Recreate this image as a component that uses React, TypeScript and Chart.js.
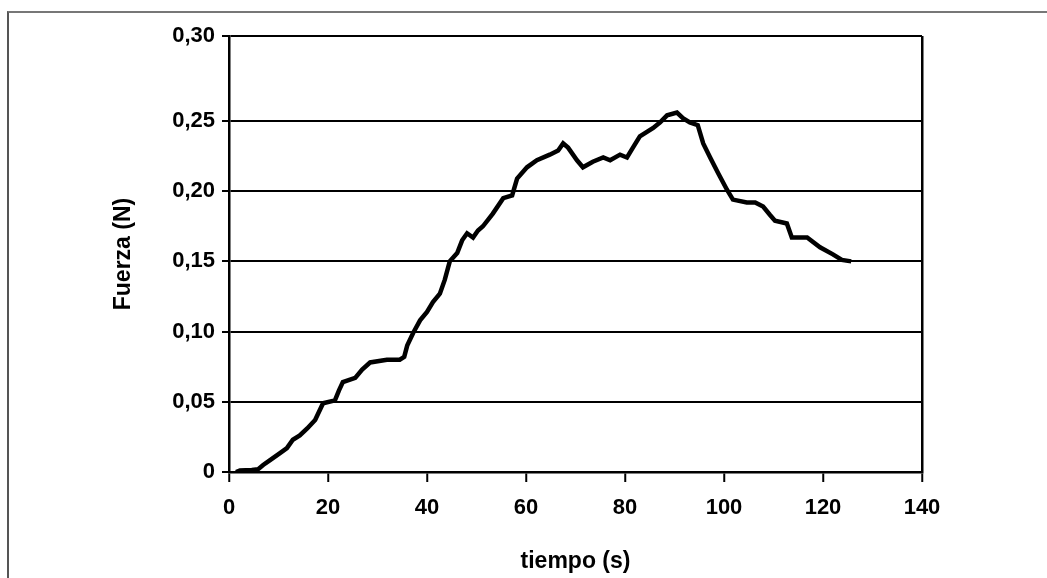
import React, { useEffect, useRef } from "react";
import { Chart, registerables } from "chart.js";

Chart.register(...registerables);

// time (s)
const tiempo = [
  1.4, 2.2, 4.6, 5.9, 6.9, 8.3, 10.3, 11.7, 12.9, 14.3, 15.8, 17.4, 19.0, 21.4, 22.2, 23.0,
  25.5, 26.9, 28.5, 31.9, 34.5, 35.4, 36.0, 37.2, 38.6, 40.0, 41.2, 42.6, 43.6, 44.6, 46.1,
  47.1, 48.1, 49.3, 50.3, 51.3, 53.3, 55.4, 57.2, 58.2, 60.2, 62.2, 64.8, 66.5, 67.5, 68.5,
  70.3, 71.5, 73.5, 75.6, 77.0, 79.0, 80.4, 81.6, 83.0, 85.7, 87.1, 88.5, 90.5, 91.7, 93.1,
  94.7, 95.8, 97.2, 98.8, 100.6, 101.8, 104.6, 106.3, 107.9, 109.3, 110.3, 112.7, 113.7,
  116.8, 119.4, 122.0, 123.8, 125.7,
];
// force (N)
const fuerza = [
  0.0, 0.001, 0.0015, 0.002, 0.005, 0.0085, 0.0135, 0.017, 0.023, 0.026, 0.031, 0.037, 0.049,
  0.051, 0.058, 0.064, 0.067, 0.073, 0.078, 0.08, 0.08, 0.082, 0.09, 0.099, 0.108, 0.114,
  0.121, 0.127, 0.137, 0.15, 0.156, 0.165, 0.17, 0.167, 0.172, 0.175, 0.184, 0.195, 0.197,
  0.209, 0.217, 0.222, 0.226, 0.229, 0.234, 0.231, 0.222, 0.217, 0.221, 0.224, 0.222, 0.226,
  0.224, 0.231, 0.239, 0.245, 0.249, 0.254, 0.256, 0.252, 0.249, 0.247, 0.234, 0.224, 0.213,
  0.201, 0.194, 0.192, 0.192, 0.189, 0.183, 0.179, 0.177, 0.167, 0.167, 0.16, 0.155, 0.151,
  0.15,
];

const yTickValues = [0, 0.05, 0.1, 0.15, 0.2, 0.25];
const yTickLabels = ["0", "0,05", "0,10", "0,15", "0,20", "0,25", "0,30"];
const xTickValues = [0, 20, 40, 60, 80, 100, 120, 140];
const xTickLabels = ["0", "20", "40", "60", "80", "100", "120", "140"];
const yAxisTop = 0.3105; // top edge of the plot, labelled "0,30"

const W = 1047;
const H = 578;

export default function App() {
  const ref = useRef<HTMLCanvasElement>(null);

  useEffect(() => {
    document.body.style.margin = "0";
    const canvas = ref.current!;
    const tickFont = { family: "'Liberation Sans', Arial, sans-serif", size: 22, weight: "bold" as const };
    const titleFont = { family: "'Liberation Sans', Arial, sans-serif", size: 23, weight: "bold" as const };
    const chart = new Chart(canvas, {
      type: "line",
      data: {
        datasets: [
          {
            data: tiempo.map((t, i) => ({ x: t, y: fuerza[i] })),
            borderColor: "#000",
            borderWidth: 4.5,
            borderJoinStyle: "miter",
            pointRadius: 0,
            tension: 0,
            fill: false,
          },
        ],
      },
      options: {
        animation: false,
        responsive: false,
        devicePixelRatio: 1,
        layout: { padding: { left: 100, top: 36, right: 125, bottom: 0 } },
        plugins: { legend: { display: false }, tooltip: { enabled: false } },
        scales: {
          x: {
            type: "linear",
            min: 0,
            max: 140,
            afterBuildTicks: (s: any) => {
              s.ticks = xTickValues.map((v) => ({ value: v }));
            },
            afterFit: (s: any) => {
              s.height = 106;
            },
            ticks: {
              color: "#000",
              font: tickFont,
              padding: 13,
              maxRotation: 0,
              autoSkip: false,
              callback: (v: any) => xTickLabels[xTickValues.indexOf(Number(v))] ?? "",
            },
            grid: {
              drawOnChartArea: true,
              color: (c: any) => (c.tick && c.tick.value === 140 ? "#000" : "rgba(0,0,0,0)"),
              lineWidth: 2.5,
              tickColor: "#000",
              tickLength: 10,
              tickWidth: 2,
            },
            border: { display: true, color: "#000", width: 2.5 },
            title: {
              display: true,
              text: "tiempo (s)",
              color: "#000",
              font: titleFont,
              padding: { top: 0, bottom: 3 },
            },
          },
          y: {
            type: "linear",
            min: 0,
            max: yAxisTop,
            afterBuildTicks: (s: any) => {
              s.ticks = [...yTickValues, yAxisTop].map((v) => ({ value: v }));
            },
            afterFit: (s: any) => {
              s.width = 129;
            },
            ticks: {
              color: "#000",
              font: tickFont,
              padding: 7,
              autoSkip: false,
              callback: (v: any, i: number) => yTickLabels[i] ?? "",
            },
            grid: {
              drawOnChartArea: true,
              color: "#000",
              lineWidth: 2,
              tickColor: "#000",
              tickLength: 7,
              tickWidth: 2,
            },
            border: { display: true, color: "#000", width: 2.5 },
            title: {
              display: true,
              text: "Fuerza (N)",
              color: "#000",
              font: titleFont,
              padding: { top: 10, bottom: 0 },
            },
          },
        },
      },
    });
    return () => chart.destroy();
  }, []);

  return (
    <div style={{ position: "relative", width: W, height: H, overflow: "hidden", background: "#fff" }}>
      <div
        style={{
          position: "absolute",
          left: 7,
          top: 11,
          width: W + 20,
          height: H + 20,
          borderLeft: "2px solid #555",
          borderTop: "2px solid #777",
        }}
      />
      <canvas ref={ref} width={W} height={H} style={{ position: "absolute", left: 0, top: 0, display: "block" }} />
    </div>
  );
}
